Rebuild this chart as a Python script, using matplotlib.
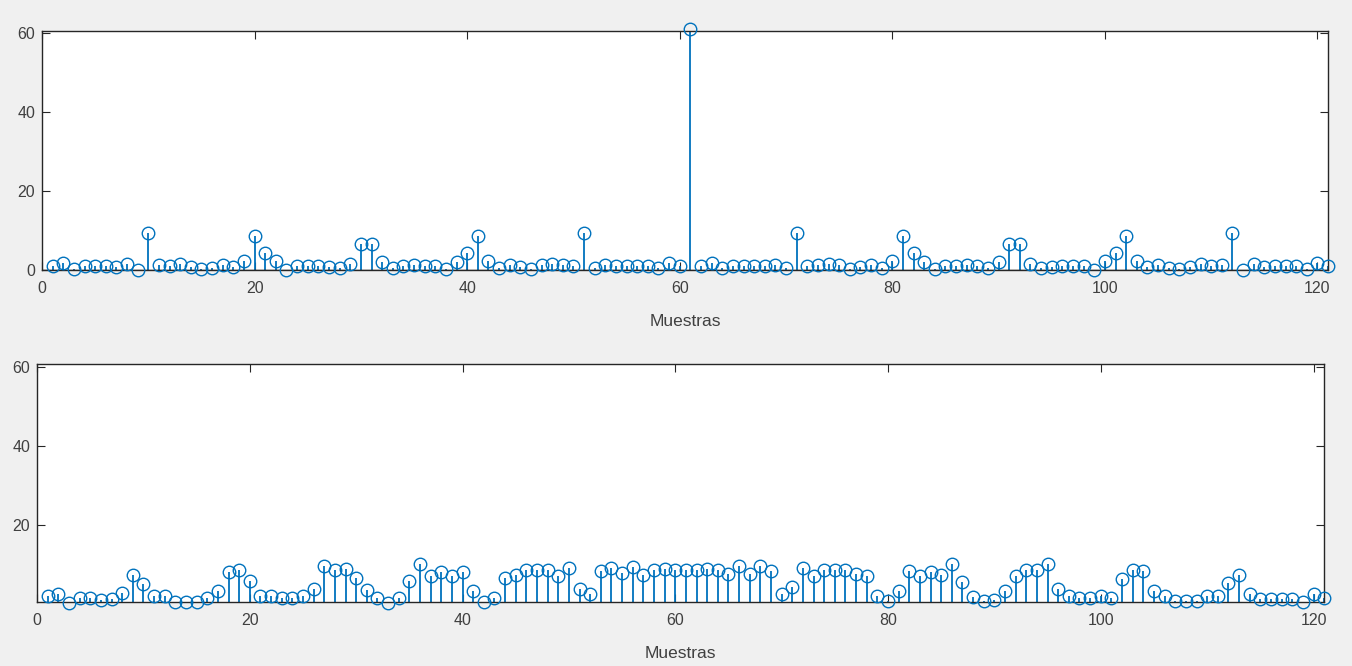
import matplotlib
matplotlib.use("Agg")
import matplotlib.pyplot as plt
import numpy as np

muestras = list(range(1, 122))

espectro = [
    0.9, 1.8, 0.3, 1.0, 1.1, 1.1, 0.7, 1.5, 0.1, 9.4,
    1.3, 1.0, 1.5, 0.7, 0.3, 0.5, 1.3, 0.8, 2.4, 8.5,
    4.4, 2.2, 0.1, 1.0, 1.0, 1.0, 0.8, 0.6, 1.6, 6.5,
    6.5, 2.1, 0.6, 1.0, 1.2, 1.1, 1.1, 0.3, 2.1, 4.4,
    8.7, 2.4, 0.6, 1.3, 0.8, 0.3, 1.2, 1.5, 1.2, 1.1,
    9.3, 0.6, 1.3, 1.0, 1.1, 1.1, 1.1, 0.6, 1.8, 1.0,
    61.0,
    1.0, 1.8, 0.6, 1.1, 1.1, 1.1, 1.0, 1.3, 0.6, 9.3,
    1.1, 1.2, 1.5, 1.2, 0.3, 0.8, 1.3, 0.6, 2.4, 8.7,
    4.4, 2.1, 0.3, 1.1, 1.1, 1.2, 1.0, 0.6, 2.1, 6.5,
    6.5, 1.6, 0.6, 0.8, 1.0, 1.0, 1.0, 0.1, 2.2, 4.4,
    8.5, 2.4, 0.8, 1.3, 0.5, 0.3, 0.7, 1.5, 1.0, 1.3,
    9.4, 0.1, 1.5, 0.7, 1.1, 1.1, 1.0, 0.3, 1.8, 0.9,
]

senal = [
    1.8, 2.5, 0.2, 1.4, 1.4, 1.0, 1.2, 2.7, 7.3, 5.0,
    1.8, 2.0, 0.3, 0.3, 0.3, 1.5, 3.3, 7.9, 8.4, 5.6,
    1.8, 2.0, 1.5, 1.5, 2.0, 3.7, 9.6, 8.4, 8.8, 6.5,
    3.4, 1.5, 0.2, 1.5, 5.6, 9.9, 6.9, 7.9, 6.9, 8.0,
    3.1, 0.5, 1.5, 6.5, 7.3, 8.4, 8.4, 8.4, 6.9, 9.0,
    3.7, 2.3, 8.2, 8.9, 7.8, 9.3, 7.3, 8.4, 8.8, 8.4,
    8.4, 8.4, 8.8, 8.4, 7.6, 9.4, 7.6, 9.4, 8.2, 2.5,
    4.2, 9.0, 6.9, 8.6, 8.4, 8.6, 7.6, 6.9, 1.8, 0.6,
    3.1, 8.2, 6.9, 7.9, 7.3, 9.9, 5.5, 1.6, 0.6, 1.0,
    3.2, 6.9, 8.4, 8.4, 9.9, 3.7, 1.8, 1.4, 1.4, 1.8,
    1.5, 6.1, 8.6, 8.2, 3.1, 1.8, 0.6, 0.6, 0.6, 1.8,
    1.8, 5.2, 7.3, 2.5, 1.2, 1.2, 1.2, 1.2, 0.3, 2.5,
    1.4,
]

xticks = [0, 20, 40, 60, 80, 100, 120]
yticks_top = [0, 20, 40, 60]
yticks_bottom = [20, 40, 60]
xlabel = "Muestras"

plt.rcParams['font.family'] = ['Liberation Sans', 'DejaVu Sans']

BLUE = '#0072BD'
AXC = '#262626'
TXT = '#404040'

fig = plt.figure(figsize=(13.52, 6.66), dpi=100, facecolor='#f0f0f0')

ax1 = fig.add_axes([0.0311, 0.5946, 0.9512, 0.3589])
ax2 = fig.add_axes([0.0274, 0.0961, 0.952, 0.3574])


def stem_plot(ax, x, y, ylim, yticks):
    ml, sl, bl = ax.stem(x, y, basefmt=' ')
    plt.setp(sl, color=BLUE, linewidth=1.3)
    plt.setp(ml, marker='o', markersize=9, markerfacecolor='none',
             markeredgecolor=BLUE, markeredgewidth=1.0, clip_on=False, zorder=4)
    ax.axhline(0, color=AXC, linewidth=1.0, zorder=3)
    ax.set_xlim(0, 121)
    ax.set_ylim(*ylim)
    ax.set_xticks(xticks)
    ax.set_yticks(yticks)
    ax.tick_params(axis='x', pad=8)
    ax.tick_params(axis='y', pad=5)
    ax.tick_params(direction='in', length=6, width=0.8, colors=AXC,
                   labelsize=11.5, labelcolor=TXT, top=True, right=True)
    for s in ax.spines.values():
        s.set_color(AXC)
        s.set_linewidth(1.0)
    ax.set_facecolor('white')
    ax.set_xlabel(xlabel, fontsize=12.5, color=TXT, labelpad=13)


stem_plot(ax1, muestras, espectro, (0, 60.6), yticks_top)
stem_plot(ax2, muestras, senal, (0.4, 60.7), yticks_bottom)

fig.savefig('out.png', dpi=100, facecolor=fig.get_facecolor())
